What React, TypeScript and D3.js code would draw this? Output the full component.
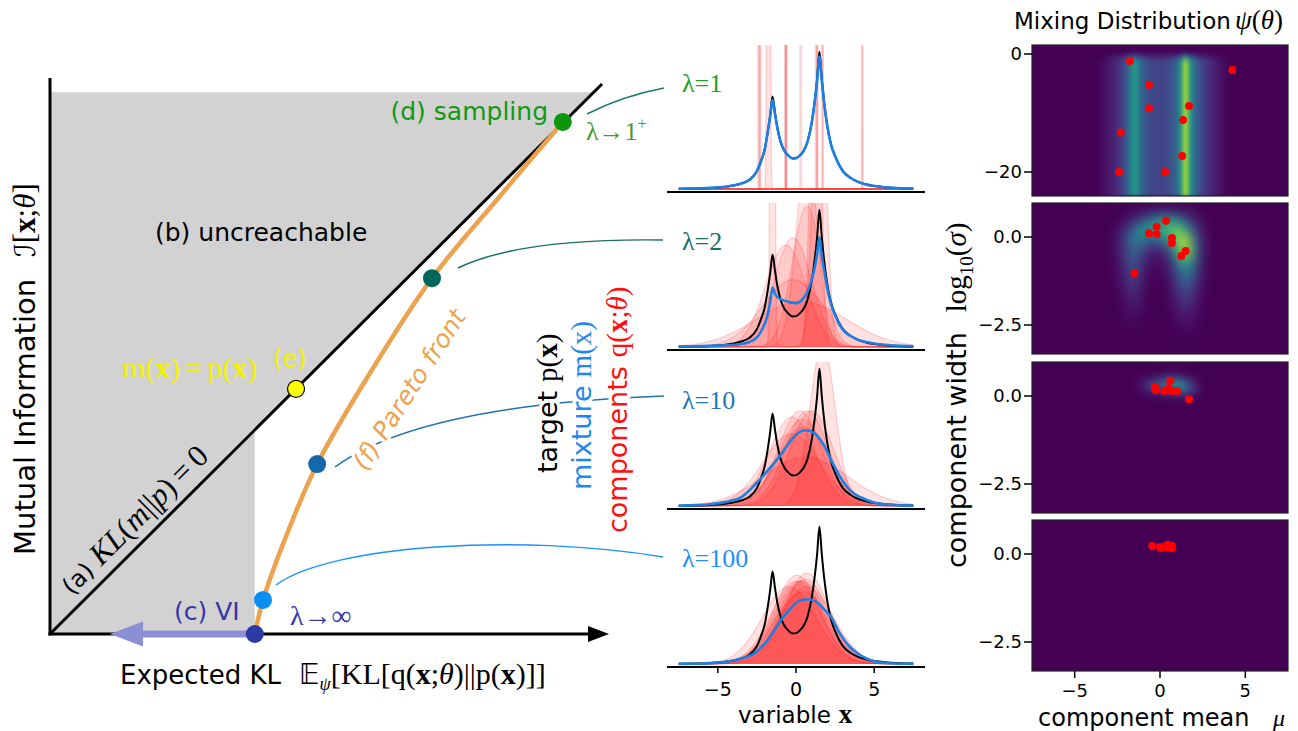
import React from 'react';
import * as d3 from 'd3';

const W = 1298;
const H = 731;
const SANS = "'DejaVu Sans', sans-serif";
const SERIF = "'Liberation Serif', 'DejaVu Serif', serif";
const SYM = "'DejaVu Sans', 'DejaVu Serif', 'Noto Sans', sans-serif";

// ---------- left panel: information plane (unit coordinates) ----------
const PARETO_X = [0.371, 0.386, 0.435, 0.484, 0.58, 0.692, 0.815, 0.929];
const PARETO_Y = [0, 0.062, 0.196, 0.309, 0.475, 0.647, 0.796, 0.931];
const POINT_X = [0.371, 0.386, 0.484, 0.692, 0.929, 0.4457];
const POINT_Y = [0, 0.062, 0.309, 0.647, 0.931, 0.4457];
const POINT_COLORS = ['#2d3aa5', '#0b8ef2', '#1467a8', '#00665a', '#0c960c', '#ffff00'];
const VI_KL = 0.371;
const GRAY_TOP = 0.985;

// ---------- middle panels: densities over variable x ----------
const LAMBDA_LABELS = ['λ=1', 'λ=2', 'λ=10', 'λ=100'];
const LAMBDA_COLORS = ['#22a022', '#17705f', '#1f77b4', '#1e90ff'];
const X_TICKS = [-5, 0, 5];

const TARGET_X = [-7.5, -6.5, -5.5, -4.5, -4, -3.5, -3, -2.5, -2.25, -2, -1.8, -1.65, -1.5, -1.35, -1.2, -1, -0.75, -0.5, -0.2, 0,
  0.25, 0.5, 0.75, 1, 1.2, 1.35, 1.5, 1.65, 1.8, 2, 2.25, 2.5, 3, 3.5, 4, 4.5, 5.5, 6.5, 7.5];
const TARGET_Y = [0.002, 0.004, 0.008, 0.016, 0.025, 0.04, 0.065, 0.13, 0.2, 0.29, 0.42, 0.54, 0.675, 0.56, 0.45, 0.35, 0.28, 0.245, 0.222, 0.225,
  0.245, 0.28, 0.35, 0.48, 0.64, 0.8, 1.0, 0.8, 0.63, 0.46, 0.32, 0.24, 0.13, 0.08, 0.05, 0.033, 0.015, 0.007, 0.003];

const MIX1_Y = [0.002, 0.004, 0.008, 0.016, 0.025, 0.04, 0.065, 0.13, 0.2, 0.29, 0.42, 0.53, 0.65, 0.55, 0.45, 0.35, 0.28, 0.245, 0.222, 0.225,
  0.245, 0.28, 0.35, 0.48, 0.64, 0.79, 0.965, 0.79, 0.63, 0.46, 0.32, 0.24, 0.13, 0.08, 0.05, 0.033, 0.015, 0.007, 0.003];
const MIX2_X = [-7.5, -6, -5, -4, -3.6, -3, -2.5, -2.2, -1.85, -1.65, -1.5, -1.35, -1.2, -0.8, -0.5, 0, 0.5, 0.8, 1, 1.2,
  1.35, 1.5, 1.65, 1.8, 2, 2.25, 2.5, 3, 3.5, 4, 5, 6, 7.5];
const MIX2_Y = [0.004, 0.006, 0.01, 0.016, 0.02, 0.035, 0.07, 0.12, 0.22, 0.33, 0.434, 0.39, 0.365, 0.34, 0.33, 0.32, 0.36, 0.42, 0.49, 0.58,
  0.68, 0.8, 0.66, 0.56, 0.43, 0.31, 0.23, 0.125, 0.08, 0.052, 0.026, 0.013, 0.005];
const MIX3_X = [-7.5, -6.5, -5.5, -4.5, -3.5, -2.5, -1.5, -1, -0.5, 0, 0.6, 1.2, 1.8, 2.4, 3, 3.5, 4.2, 5, 6, 7.5];
const MIX3_Y = [0.002, 0.006, 0.013, 0.03, 0.065, 0.17, 0.3, 0.37, 0.45, 0.52, 0.552, 0.53, 0.44, 0.3, 0.18, 0.11, 0.06, 0.025, 0.01, 0.002];
const MIX4_X = [-7.5, -6, -5, -4, -3.5, -2.5, -1.5, -0.9, -0.3, 0.2, 0.7, 1.2, 1.7, 2.2, 2.8, 3.4, 3.9, 4.5, 5, 6, 7.5];
const MIX4_Y = [0.001, 0.004, 0.01, 0.025, 0.04, 0.09, 0.225, 0.33, 0.41, 0.46, 0.472, 0.46, 0.41, 0.35, 0.225, 0.13, 0.08, 0.04, 0.02, 0.005, 0.001];

// mixture components (mean, log10 width), the red dots of the right column
const COMP1_MU = [-1.76, 4.24, -0.65, -0.65, 1.7, 1.35, -2.3, 1.3, -2.4, 0.3];
const COMP1_LOGS = [-1.2, -2.7, -5.2, -9.2, -8.8, -11.2, -13.3, -17.3, -20, -20];
const COMP2_MU = [-0.65, -0.2, -0.2, 0.35, 0.7, 0.7, 1.5, 1.25, -1.5];
const COMP2_LOGS = [0.11, 0.29, 0.08, 0.46, -0.03, -0.17, -0.4, -0.54, -1.03];
const COMP3_MU = [-0.3, -0.25, 0.6, 0.25, 0.5, 0.7, 1.0, 1.7, 0.4];
const COMP3_LOGS = [0.26, 0.17, 0.43, 0.14, 0.22, 0.14, 0.14, -0.09, 0.18];
const COMP4_MU = [-0.45, 0.0, 0.2, 0.45, 0.7, 0.6, 0.05, 0.4, 0.7];
const COMP4_LOGS = [0.23, 0.2, 0.2, 0.26, 0.23, 0.19, 0.17, 0.2, 0.16];
const DENSITY_SCALE = 2.4;

// ---------- right panels: mixing distribution heatmaps ----------
const HEAT1_MU = d3.range(-4, 4.001, 0.25);
const HEAT1_COL = [0, 0.01, 0.02, 0.04, 0.06, 0.09, 0.13, 0.18, 0.26, 0.4, 0.58, 0.4, 0.3, 0.25, 0.22, 0.21, 0.2,
  0.21, 0.23, 0.27, 0.34, 0.55, 0.92, 0.55, 0.36, 0.27, 0.2, 0.15, 0.11, 0.08, 0.05, 0.03, 0.01];
const HEAT1_ROW_EDGES = [1.6, 0.2, -0.1, -0.4, -0.7, -1.0, -1.3, -24.2];
const HEAT1_ROW = [0, 0.15, 0.35, 0.6, 0.8, 0.92, 1];

const HEAT2_MU = [-3, -2.5, -2, -1.5, -1, -0.5, 0, 0.5, 1, 1.5, 2, 2.5, 3];
const HEAT2_LOGS = [0.75, 0.5, 0.25, 0, -0.25, -0.5, -0.75, -1, -1.25, -1.5, -1.75, -2, -2.25, -2.5, -2.75];
const HEAT2 = [
  [0, 0, 0, 0.02, 0.04, 0.06, 0.08, 0.08, 0.06, 0.04, 0.02, 0, 0],
  [0, 0, 0.03, 0.1, 0.2, 0.35, 0.5, 0.5, 0.4, 0.25, 0.08, 0.02, 0],
  [0, 0.03, 0.12, 0.35, 0.5, 0.6, 0.65, 0.7, 0.75, 0.55, 0.2, 0.04, 0],
  [0, 0.05, 0.2, 0.45, 0.45, 0.4, 0.45, 0.6, 0.85, 0.85, 0.35, 0.06, 0],
  [0, 0.05, 0.2, 0.4, 0.25, 0.15, 0.15, 0.3, 0.7, 0.95, 0.45, 0.07, 0],
  [0, 0.04, 0.18, 0.35, 0.15, 0.06, 0.05, 0.15, 0.5, 0.9, 0.45, 0.06, 0],
  [0, 0.03, 0.15, 0.3, 0.1, 0.03, 0.02, 0.08, 0.35, 0.6, 0.35, 0.05, 0],
  [0, 0.02, 0.12, 0.25, 0.07, 0.02, 0.01, 0.05, 0.25, 0.45, 0.25, 0.04, 0],
  [0, 0.02, 0.1, 0.2, 0.05, 0.01, 0, 0.03, 0.18, 0.35, 0.2, 0.03, 0],
  [0, 0.01, 0.07, 0.15, 0.04, 0, 0, 0.02, 0.13, 0.25, 0.14, 0.02, 0],
  [0, 0, 0.05, 0.1, 0.03, 0, 0, 0.01, 0.1, 0.18, 0.1, 0.01, 0],
  [0, 0, 0.03, 0.07, 0.02, 0, 0, 0, 0.07, 0.12, 0.07, 0, 0],
  [0, 0, 0.02, 0.04, 0.01, 0, 0, 0, 0.04, 0.07, 0.04, 0, 0],
  [0, 0, 0.01, 0.02, 0, 0, 0, 0, 0.02, 0.04, 0.02, 0, 0],
  [0, 0, 0, 0.01, 0, 0, 0, 0, 0.01, 0.02, 0.01, 0, 0],
];
const HEAT3_MU = [-1.5, -1, -0.5, 0, 0.5, 1, 1.5, 2, 2.5];
const HEAT3_LOGS = [0.625, 0.5, 0.375, 0.25, 0.125, 0, -0.125];
const HEAT3 = [
  [0, 0, 0, 0.01, 0.02, 0.02, 0.01, 0, 0],
  [0, 0.02, 0.06, 0.12, 0.2, 0.2, 0.1, 0.02, 0],
  [0, 0.08, 0.22, 0.3, 0.45, 0.55, 0.35, 0.1, 0],
  [0, 0.08, 0.25, 0.35, 0.45, 0.55, 0.4, 0.15, 0],
  [0, 0.03, 0.1, 0.15, 0.2, 0.3, 0.25, 0.1, 0],
  [0, 0, 0.02, 0.03, 0.05, 0.08, 0.08, 0.03, 0],
  [0, 0, 0, 0, 0, 0.01, 0.01, 0, 0],
];

// ---------- layout ----------
const LX = d3.scaleLinear().domain([0, 1]).range([50, 602]);
const LY = d3.scaleLinear().domain([0, 1]).range([634, 84]);
const MX = d3.scaleLinear().domain([-8.25, 8.25]).range([667, 925]);
const MID_TOPS = [45, 203, 362, 520];
const MID_H = 147;
const RX = d3.scaleLinear().domain([-7.5, 7.5]).range([1032, 1288]);
const RIGHT_TOPS = [45, 203, 362, 520];
const RIGHT_H = 151;
const RIGHT_DOMAINS: [number, number][] = [[-24.07, 1.525], [-3.324, 0.966], [-3.324, 0.966], [-3.324, 0.966]];
const RIGHT_TICKS = [[0, -20], [0, -2.5], [0, -2.5], [0, -2.5]];
const RIGHT_TICK_FMT = [(d: number) => (d === 0 ? '0' : '−20'), (d: number) => (d === 0 ? '0.0' : '−2.5')];

const MIX_SERIES = [
  { x: TARGET_X, y: MIX1_Y },
  { x: MIX2_X, y: MIX2_Y },
  { x: MIX3_X, y: MIX3_Y },
  { x: MIX4_X, y: MIX4_Y },
];
const COMPS = [
  { mu: COMP1_MU, ls: COMP1_LOGS },
  { mu: COMP2_MU, ls: COMP2_LOGS },
  { mu: COMP3_MU, ls: COMP3_LOGS },
  { mu: COMP4_MU, ls: COMP4_LOGS },
];

const GRID = d3.range(-7.5, 7.5001, 0.01);
function gauss(x: number, mu: number, s: number) {
  return Math.exp(-0.5 * ((x - mu) / s) ** 2) / (s * Math.sqrt(2 * Math.PI));
}

const halo = { stroke: '#fff', strokeWidth: 7, paintOrder: 'stroke' as const, strokeLinejoin: 'round' as const };

function MidPanel({ i }: { i: number }) {
  const top = MID_TOPS[i];
  const y = d3.scaleLinear().domain([-0.022, 1.05]).range([top + MID_H, top]);
  const line = d3.line<[number, number]>().x(d => MX(d[0])).y(d => y(d[1])).curve(d3.curveMonotoneX);
  const edge = d3.line<[number, number]>().x(d => MX(d[0])).y(d => y(d[1]));
  const area = d3.area<[number, number]>().x(d => MX(d[0])).y0(y(0)).y1(d => y(d[1]));
  const target = TARGET_X.map((x, k) => [x, TARGET_Y[k]] as [number, number]);
  const mix = MIX_SERIES[i].x.map((x, k) => [x, MIX_SERIES[i].y[k]] as [number, number]);
  const pxPerUnit = MX(1) - MX(0);
  const comps = COMPS[i].mu.map((mu, k) => {
    const s = Math.pow(10, COMPS[i].ls[k]);
    const pts = GRID.map(x => [x, Math.min(1.4, DENSITY_SCALE * gauss(x, mu, s))] as [number, number]);
    return { mu, s, pts, spike: s * pxPerUnit < 0.5 };
  });
  return (
    <g>
      <clipPath id={`mclip${i}`}>
        <rect x={MX.range()[0]} y={top} width={MX.range()[1] - MX.range()[0]} height={MID_H} />
      </clipPath>
      <g clipPath={`url(#mclip${i})`}>
        {comps.map((c, k) => (
          <g key={k}>
            {!c.spike && <path d={area(c.pts) || ''} fill="rgba(255,0,0,0.11)" />}
            {c.spike && (
              <rect x={MX(c.mu) - 1.5} y={top} width={3} height={y(0) - top} fill="rgba(255,0,0,0.16)" />
            )}
            <path d={edge(c.pts) || ''} fill="none" stroke="rgba(255,0,0,0.16)" strokeWidth={1.3} />
          </g>
        ))}
        <path d={line(target) || ''} fill="none" stroke="#000" strokeWidth={2} />
        <path d={line(mix) || ''} fill="none" stroke="#1a80e6" strokeWidth={2.6} />
      </g>
      <line x1={MX.range()[0]} x2={MX.range()[1]} y1={top + MID_H} y2={top + MID_H} stroke="#000" strokeWidth={2} />
      <text x={682} y={[92, 250, 409, 567][i]} fontFamily={SERIF} fontSize={26} fill={LAMBDA_COLORS[i]}>
        {LAMBDA_LABELS[i]}
      </text>
      {i === 3 && (
        <g>
          {X_TICKS.map(t => (
            <g key={t}>
              <line x1={MX(t)} x2={MX(t)} y1={top + MID_H} y2={top + MID_H + 6} stroke="#000" strokeWidth={1.5} />
              <text x={MX(t)} y={696} textAnchor="middle" fontFamily={SANS} fontSize={19}>
                {t < 0 ? `−${-t}` : `${t}`}
              </text>
            </g>
          ))}
          <text x={738} y={723} fontFamily={SANS} fontSize={23}>
            variable
            <tspan dx={8} fontFamily={SERIF} fontWeight="bold" fontSize={27}>x</tspan>
          </text>
        </g>
      )}
    </g>
  );
}

function RightPanel({ i }: { i: number }) {
  const top = RIGHT_TOPS[i];
  const y = d3.scaleLinear().domain(RIGHT_DOMAINS[i]).range([top + RIGHT_H, top]);
  const x0 = RX.range()[0];
  const x1 = RX.range()[1];
  const cells: { x: number; y: number; w: number; h: number; v: number }[] = [];
  if (i === 0) {
    HEAT1_MU.forEach((mu, c) => {
      HEAT1_ROW.forEach((f, r) => {
        const ya = y(HEAT1_ROW_EDGES[r]);
        const yb = y(HEAT1_ROW_EDGES[r + 1]);
        cells.push({ x: RX(mu - 0.125), y: ya, w: RX(0.25) - RX(0) + 0.6, h: yb - ya + 0.6, v: HEAT1_COL[c] * f });
      });
    });
  } else if (i === 1 || i === 2) {
    const mus = i === 1 ? HEAT2_MU : HEAT3_MU;
    const lss = i === 1 ? HEAT2_LOGS : HEAT3_LOGS;
    const grid = i === 1 ? HEAT2 : HEAT3;
    const dmu = mus[1] - mus[0];
    const dls = lss[0] - lss[1];
    lss.forEach((ls, r) => {
      mus.forEach((mu, c) => {
        cells.push({
          x: RX(mu - dmu / 2), y: y(ls + dls / 2),
          w: RX(dmu) - RX(0) + 0.6, h: y(0) - y(dls) + 0.6, v: grid[r][c],
        });
      });
    });
  }
  const comps = COMPS[i];
  const filt = i === 0 ? 'url(#blurA)' : i === 1 ? 'url(#blurB)' : 'url(#blurC)';
  return (
    <g>
      <clipPath id={`rclip${i}`}>
        <rect x={x0} y={top} width={x1 - x0} height={RIGHT_H} />
      </clipPath>
      <g clipPath={`url(#rclip${i})`}>
        <rect x={x0} y={top} width={x1 - x0} height={RIGHT_H} fill={d3.interpolateViridis(0)} />
        <g filter={filt}>
          <rect x={x0 - 20} y={top - 20} width={x1 - x0 + 40} height={RIGHT_H + 40} fill={d3.interpolateViridis(0)} />
          {cells.map((c, k) => (
            <rect key={k} x={c.x} y={c.y} width={c.w} height={c.h} fill={d3.interpolateViridis(c.v)} />
          ))}
        </g>
        {comps.mu.map((mu, k) => (
          <circle key={k} cx={RX(mu)} cy={y(comps.ls[k])} r={4} fill="#ff0000" />
        ))}
      </g>
      <rect x={x0} y={top} width={x1 - x0} height={RIGHT_H} fill="none" stroke="#222" strokeWidth={1.2} />
      {RIGHT_TICKS[i].map(t => (
        <g key={t}>
          <line x1={x0 - 8} x2={x0} y1={y(t)} y2={y(t)} stroke="#000" strokeWidth={1.5} />
          <text x={x0 - 10} y={y(t)} dy="0.36em" textAnchor="end" fontFamily={SANS} fontSize={18}>
            {RIGHT_TICK_FMT[i === 0 ? 0 : 1](t)}
          </text>
        </g>
      ))}
      {i === 3 && X_TICKS.map(t => (
        <g key={t}>
          <line x1={RX(t)} x2={RX(t)} y1={top + RIGHT_H} y2={top + RIGHT_H + 7} stroke="#000" strokeWidth={1.5} />
          <text x={RX(t)} y={697} textAnchor="middle" fontFamily={SANS} fontSize={18}>
            {t < 0 ? `−${-t}` : `${t}`}
          </text>
        </g>
      ))}
    </g>
  );
}

export default function App() {
  const pareto = d3.line<number>()
    .x(d => LX(d))
    .y((_, k) => LY(PARETO_Y[k]))
    .curve(d3.curveCatmullRom.alpha(0.5));
  const grayPoly = [
    [0, 0], [0, GRAY_TOP], [GRAY_TOP, GRAY_TOP], [VI_KL, VI_KL], [VI_KL, 0],
  ].map(p => `${LX(p[0])},${LY(p[1])}`).join(' ');
  const axisY = LY(0);
  const viX = LX(VI_KL);

  return (
    <svg width={W} height={H} style={{ position: 'absolute', left: 0, top: 0, display: 'block', background: '#fff' }}>
      <defs>
        <filter id="blurA" x="-10%" y="-10%" width="120%" height="120%" colorInterpolationFilters="sRGB">
          <feGaussianBlur stdDeviation="2.2 2.8" />
        </filter>
        <filter id="blurB" x="-10%" y="-10%" width="120%" height="120%" colorInterpolationFilters="sRGB">
          <feGaussianBlur stdDeviation="6" />
        </filter>
        <filter id="blurC" x="-10%" y="-10%" width="120%" height="120%" colorInterpolationFilters="sRGB">
          <feGaussianBlur stdDeviation="4" />
        </filter>
      </defs>

      {/* ---------------- left panel ---------------- */}
      <polygon points={grayPoly} fill="#d2d2d2" />
      <line x1={LX(0)} y1={LY(0)} x2={LX(1)} y2={LY(1)} stroke="#000" strokeWidth={3} />
      <path d={pareto(PARETO_X) || ''} fill="none" stroke="#eca24f" strokeWidth={4.5} />
      <line x1={LX(0)} y1={78} x2={LX(0)} y2={axisY + 1.5} stroke="#000" strokeWidth={3} />
      <line x1={LX(0) - 1.5} y1={axisY} x2={590} y2={axisY} stroke="#000" strokeWidth={3} />
      <polygon points={`${609},${axisY} ${588},${axisY - 8} ${588},${axisY + 8}`} fill="#000" />
      {/* VI arrow */}
      <line x1={viX} y1={axisY} x2={140} y2={axisY} stroke="#8b90d6" strokeWidth={7} />
      <polygon points={`${110},${axisY} ${143},${axisY - 12.5} ${143},${axisY + 12.5}`} fill="#8b90d6" />

      {/* connectors to the lambda panels */}
      <path d="M587,114 Q622,96 664,88" fill="none" stroke="#1d7a6b" strokeWidth={1.5} />
      <path d="M458,268 Q520,238 663,240" fill="none" stroke="#17705f" strokeWidth={1.5} />
      <path d="M335,467 Q420,405 664,396" fill="none" stroke="#1f70b0" strokeWidth={1.5} />
      <path d="M276,585 C330,545 520,533 663,557" fill="none" stroke="#1e90ff" strokeWidth={1.5} />

      {POINT_X.map((px, k) => (
        <circle key={k} cx={LX(px)} cy={LY(POINT_Y[k])} r={k === 5 ? 8.5 : 9}
          fill={POINT_COLORS[k]} stroke={k === 5 ? '#000' : 'none'} strokeWidth={1.2} />
      ))}

      <text x={155} y={241} fontFamily={SANS} fontSize={25}>(b) uncreachable</text>
      <text x={548} y={120} textAnchor="end" fontFamily={SANS} fontSize={25} fill="#129912">(d) sampling</text>
      <text x={586} y={140} fontFamily={SERIF} fontSize={26} fill="#4f9a2e">
        λ→1<tspan fontSize={16} dy={-11}>+</tspan>
      </text>
      <text x={174} y={620} fontFamily={SANS} fontSize={25} fill="#3636a8">(c) VI</text>
      <text x={290} y={625} fontFamily={SERIF} fontSize={28} fill="#3636b0">λ→∞</text>
      <text x={122} y={378} fontFamily={SERIF} fontSize={30} fill="#f2f200">
        m(<tspan fontWeight="bold">x</tspan>)<tspan dx={5}>=</tspan><tspan dx={5}>p(</tspan><tspan fontWeight="bold">x</tspan>)
      </text>
      <text x={273} y={367} fontFamily={SANS} fontSize={24} fill="#f2f200">(e)</text>
      <text transform="translate(72,596) rotate(-45)" fontFamily={SANS} fontSize={24}>
        (a)<tspan dx={8} fontFamily={SERIF} fontSize={31} fontStyle="italic">KL</tspan>
        <tspan fontFamily={SERIF} fontSize={31}>(</tspan>
        <tspan fontFamily={SERIF} fontSize={31} fontStyle="italic">m</tspan>
        <tspan fontFamily={SERIF} fontSize={31}>||</tspan>
        <tspan fontFamily={SERIF} fontSize={31} fontStyle="italic">p</tspan>
        <tspan fontFamily={SERIF} fontSize={31}>)</tspan>
        <tspan dx={6} fontFamily={SERIF} fontSize={31}>=</tspan>
        <tspan dx={6} fontFamily={SERIF} fontSize={31}>0</tspan>
      </text>
      <text transform="translate(366,472) rotate(-57)" fontFamily={SANS} fontSize={25} fontStyle="italic" fill="#eca24f" {...halo}>
        (f) Pareto front
      </text>

      <text transform="translate(35,555) rotate(-90)" fontFamily={SANS} fontSize={29}>
        Mutual Information
        <tspan dx={22} fontFamily={SYM} fontSize={29} fontStyle="italic">ℐ</tspan>
        <tspan fontFamily={SERIF} fontSize={31}>[</tspan>
        <tspan fontFamily={SERIF} fontSize={31} fontWeight="bold">x</tspan>
        <tspan fontFamily={SERIF} fontSize={31}>;</tspan>
        <tspan fontFamily={SERIF} fontSize={31} fontStyle="italic">θ</tspan>
        <tspan fontFamily={SERIF} fontSize={31}>]</tspan>
      </text>
      <text x={120} y={684} fontFamily={SANS} fontSize={26}>
        Expected KL
        <tspan dx={18} fontFamily={SYM} fontSize={28}>𝔼</tspan>
        <tspan fontFamily={SERIF} fontSize={18} fontStyle="italic" dy={6}>ψ</tspan>
        <tspan fontFamily={SERIF} fontSize={30} dy={-6}>[KL[q(</tspan>
        <tspan fontFamily={SERIF} fontSize={30} fontWeight="bold">x</tspan>
        <tspan fontFamily={SERIF} fontSize={30}>;</tspan>
        <tspan fontFamily={SERIF} fontSize={30} fontStyle="italic">θ</tspan>
        <tspan fontFamily={SERIF} fontSize={30}>)||p(</tspan>
        <tspan fontFamily={SERIF} fontSize={30} fontWeight="bold">x</tspan>
        <tspan fontFamily={SERIF} fontSize={30}>)]]</tspan>
      </text>

      {/* ---------------- middle panels ---------------- */}
      {[0, 1, 2, 3].map(i => <MidPanel key={i} i={i} />)}

      <text transform="translate(557,473) rotate(-90)" fontFamily={SANS} fontSize={27} fill="#000" {...halo}>
        target<tspan dx={9} fontFamily={SERIF} fontSize={29}>p(</tspan>
        <tspan fontFamily={SERIF} fontSize={29} fontWeight="bold">x</tspan>
        <tspan fontFamily={SERIF} fontSize={29}>)</tspan>
      </text>
      <text transform="translate(591,490) rotate(-90)" fontFamily={SANS} fontSize={27} fill="#1e88f0" {...halo}>
        mixture<tspan dx={8} fontFamily={SERIF} fontSize={29}>m(x)</tspan>
      </text>
      <text transform="translate(627,533) rotate(-90)" fontFamily={SANS} fontSize={27} fill="#ff1010" {...halo}>
        components<tspan dx={9} fontFamily={SERIF} fontSize={29}>q(</tspan>
        <tspan fontFamily={SERIF} fontSize={29} fontWeight="bold">x</tspan>
        <tspan fontFamily={SERIF} fontSize={29}>;</tspan>
        <tspan fontFamily={SERIF} fontSize={29} fontStyle="italic">θ</tspan>
        <tspan fontFamily={SERIF} fontSize={29}>)</tspan>
      </text>

      {/* ---------------- right panels ---------------- */}
      {[0, 1, 2, 3].map(i => <RightPanel key={i} i={i} />)}

      <text x={1014} y={29} fontFamily={SANS} fontSize={23}>
        Mixing Distribution
        <tspan dx={4} fontFamily={SERIF} fontSize={27} fontStyle="italic">ψ</tspan>
        <tspan fontFamily={SERIF} fontSize={27}>(</tspan>
        <tspan fontFamily={SERIF} fontSize={27} fontStyle="italic">θ</tspan>
        <tspan fontFamily={SERIF} fontSize={27}>)</tspan>
      </text>
      <text transform="translate(966,568) rotate(-90)" fontFamily={SANS} fontSize={27}>
        component width
        <tspan dx={20} fontFamily={SERIF} fontSize={29}>log</tspan>
        <tspan fontFamily={SERIF} fontSize={19} dy={7}>10</tspan>
        <tspan fontFamily={SERIF} fontSize={29} dy={-7}>(</tspan>
        <tspan fontFamily={SERIF} fontSize={29} fontStyle="italic">σ</tspan>
        <tspan fontFamily={SERIF} fontSize={29}>)</tspan>
      </text>
      <text x={1038} y={726} fontFamily={SANS} fontSize={24}>component mean</text>
      <text x={1273} y={726} fontFamily={SERIF} fontSize={24} fontStyle="italic">μ</text>
    </svg>
  );
}
